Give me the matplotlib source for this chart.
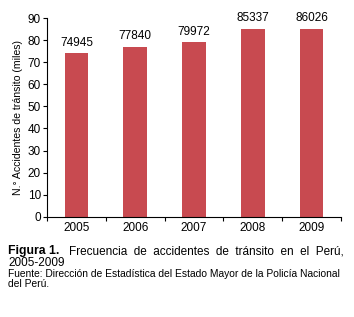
import matplotlib.pyplot as plt
import numpy as np

plt.rcParams['font.family'] = ['Liberation Sans', 'DejaVu Sans']

# datos (altura de barras, en miles)
anios = ['2005', '2006', '2007', '2008', '2009']
accidentes = [74945, 77840, 79972, 85337, 86026]
miles = [74, 77, 79, 85, 85]

fig = plt.figure(figsize=(3.54, 3.17), dpi=100)
ax = fig.add_axes([0.133, 0.316, 0.83, 0.627])

x = np.arange(len(anios))
ax.bar(x, miles, width=0.4, color='#C84A50')

for xi, v, a in zip(x, miles, accidentes):
    ax.annotate(str(a), (xi, v), xytext=(0, 3.5), textcoords='offset points',
                ha='center', va='bottom', fontsize=8.5)

ax.set_xlim(-0.5, len(anios) - 0.5)
ax.set_ylim(0, 90)
ax.set_yticks(range(0, 91, 10))
ax.set_xticks(x)
ax.set_xticklabels(anios)
ax.set_xticks(np.arange(-0.5, len(anios)), minor=True)
ax.tick_params(axis='x', which='major', length=0, pad=4, labelsize=8.5)
ax.tick_params(axis='x', which='minor', length=3, direction='out', width=0.8)
ax.tick_params(axis='y', length=3, direction='out', width=0.8, pad=1.5, labelsize=8.5)
ax.spines['top'].set_visible(False)
ax.spines['right'].set_visible(False)
ax.spines['left'].set_linewidth(0.8)
ax.spines['bottom'].set_linewidth(0.8)
ax.set_ylabel('N.° Accidentes de tránsito (miles)', fontsize=7.6, labelpad=3)

# pie de figura
fig.text(8 / 354, 1 - 251 / 317, 'Figura 1.', fontsize=8.8, fontweight='bold', va='center')
fig.text(344 / 354, 1 - 251 / 317, 'Frecuencia  de  accidentes  de  tránsito  en  el  Perú,',
         fontsize=8.5, va='center', ha='right')
fig.text(8 / 354, 1 - 263 / 317, '2005-2009', fontsize=8.5, va='center')
fig.text(8 / 354, 1 - 274 / 317,
         'Fuente: Dirección de Estadística del Estado Mayor de la Policía Nacional',
         fontsize=7.4, va='center')
fig.text(8 / 354, 1 - 284 / 317, 'del Perú.', fontsize=7.4, va='center')

fig.savefig('out.png', dpi=100)
